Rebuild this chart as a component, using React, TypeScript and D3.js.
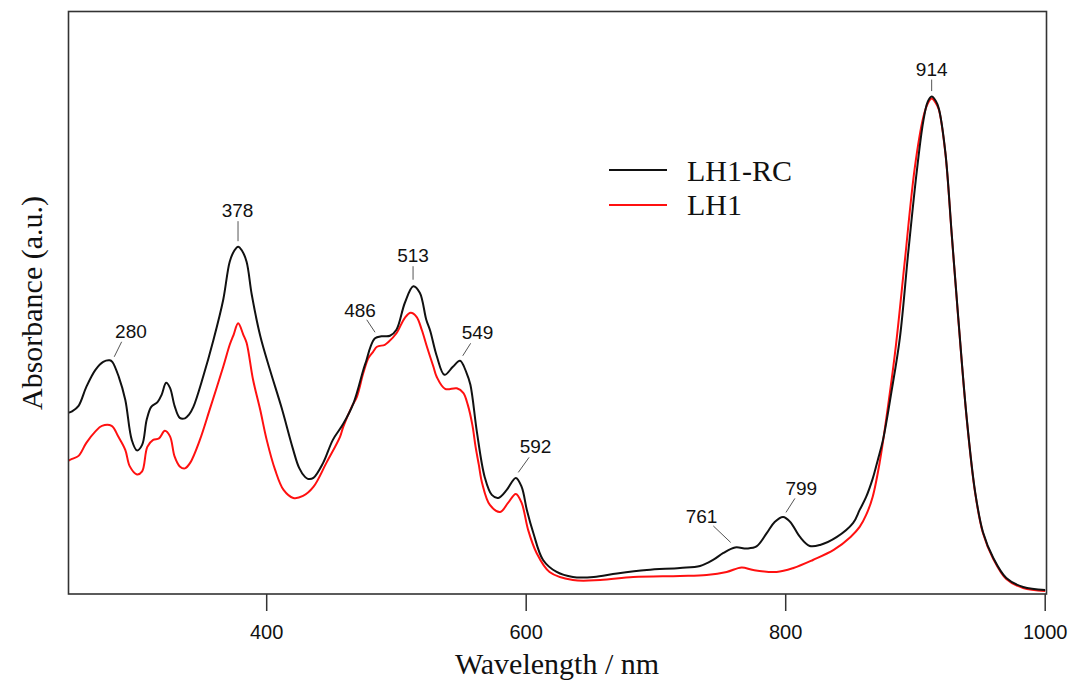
import React from "react";
import * as d3 from "d3";

// Wavelengths (nm) and absorbance (a.u.) for LH1-RC (black)
const lh1rcWl = [247, 250, 255, 261, 268, 274, 279, 281, 286, 291, 296, 300, 304, 307.5, 311, 316, 319, 322.5, 325.5, 329, 333, 337, 340, 343.5, 351, 359, 366.5, 371.5, 375, 378, 381, 384.5, 388.5, 395, 402.5, 411.5, 420, 425, 429.5, 432, 436, 443.5, 451, 459, 467, 474.5, 477, 480, 483.5, 488.5, 495, 500, 506.5, 513, 518, 523, 526, 531, 537, 543.5, 549, 554, 557, 562, 568, 573.5, 578.5, 585, 592, 596.5, 600.5, 605.5, 613, 623.5, 636, 652, 670, 693, 718.5, 734, 744, 752, 761, 770, 777.5, 785.5, 791.5, 798, 803.5, 811, 818.5, 826.5, 839.5, 852, 857, 862, 867, 871, 875, 881.5, 888, 894.5, 901, 906, 909.5, 912.5, 915.5, 918, 923, 928, 933, 939.5, 946, 952, 960, 970, 983, 1000];
const lh1rcAbs = [0.362, 0.365, 0.376, 0.414, 0.448, 0.464, 0.467, 0.464, 0.434, 0.388, 0.308, 0.287, 0.298, 0.348, 0.374, 0.384, 0.398, 0.422, 0.412, 0.376, 0.352, 0.351, 0.358, 0.374, 0.434, 0.508, 0.588, 0.664, 0.686, 0.694, 0.686, 0.664, 0.598, 0.516, 0.448, 0.372, 0.292, 0.252, 0.234, 0.230, 0.232, 0.262, 0.308, 0.340, 0.382, 0.448, 0.468, 0.494, 0.511, 0.515, 0.516, 0.528, 0.582, 0.615, 0.602, 0.548, 0.526, 0.476, 0.438, 0.454, 0.466, 0.442, 0.418, 0.324, 0.234, 0.198, 0.192, 0.208, 0.232, 0.214, 0.168, 0.122, 0.068, 0.044, 0.034, 0.034, 0.041, 0.048, 0.052, 0.056, 0.068, 0.082, 0.093, 0.091, 0.095, 0.122, 0.144, 0.154, 0.144, 0.114, 0.096, 0.098, 0.114, 0.142, 0.168, 0.194, 0.230, 0.268, 0.308, 0.404, 0.512, 0.684, 0.844, 0.944, 0.984, 0.994, 0.986, 0.970, 0.884, 0.718, 0.552, 0.352, 0.204, 0.124, 0.072, 0.032, 0.014, 0.008];

// LH1 (red)
const lh1Wl = [247, 250, 255, 261, 268, 273, 280.5, 285.5, 291, 294.5, 300, 304, 308, 312.5, 317, 321.5, 325.5, 329, 333, 337, 341, 348.5, 356, 366.5, 371.5, 374.5, 378, 382, 384.5, 389.5, 395, 400, 406.5, 413, 420.5, 428, 436, 446, 456.5, 459, 465.5, 469.5, 474.5, 478.5, 482, 485, 491, 494, 500, 506.5, 511, 515.5, 519.5, 523.5, 528.5, 531, 537.5, 546.5, 551.5, 555, 558.5, 561, 563.5, 566, 572, 580, 586, 592, 596.5, 601.5, 608, 618, 636, 657, 682.5, 718.5, 739, 754.5, 766, 775, 793, 806, 821, 837, 850, 857, 862, 867, 872.5, 879, 885, 891.5, 899.5, 906, 909.5, 912.5, 915.5, 918, 923, 928, 933, 939.5, 946, 952, 960, 970, 983, 1000];
const lh1Abs = [0.266, 0.270, 0.276, 0.302, 0.325, 0.336, 0.336, 0.315, 0.288, 0.255, 0.239, 0.245, 0.294, 0.308, 0.311, 0.326, 0.315, 0.275, 0.255, 0.251, 0.262, 0.308, 0.368, 0.454, 0.498, 0.518, 0.541, 0.518, 0.502, 0.428, 0.368, 0.308, 0.248, 0.208, 0.192, 0.196, 0.214, 0.262, 0.314, 0.334, 0.374, 0.394, 0.442, 0.472, 0.484, 0.494, 0.498, 0.504, 0.521, 0.552, 0.562, 0.554, 0.528, 0.494, 0.454, 0.434, 0.410, 0.411, 0.402, 0.378, 0.338, 0.294, 0.258, 0.222, 0.178, 0.164, 0.182, 0.200, 0.182, 0.128, 0.082, 0.044, 0.028, 0.028, 0.034, 0.036, 0.038, 0.044, 0.053, 0.048, 0.044, 0.052, 0.068, 0.088, 0.114, 0.134, 0.158, 0.194, 0.264, 0.378, 0.498, 0.658, 0.852, 0.952, 0.980, 0.990, 0.982, 0.968, 0.882, 0.716, 0.550, 0.350, 0.202, 0.122, 0.070, 0.030, 0.012, 0.006];

const xTicks = [400, 600, 800, 1000];

// Peak annotations
const peakLabels = ["280", "378", "486", "513", "549", "592", "761", "799", "914"];
// label anchor (centre, baseline) in data units
const labelWl = [295.4, 377.5, 471.9, 512.8, 562.5, 607.2, 735.1, 812.0, 912.5];
const labelAbs = [0.512, 0.754, 0.554, 0.664, 0.510, 0.282, 0.142, 0.198, 1.036];
// leader line start (near the peak) and end (near the label)
const leaderWl0 = [282.5, 377.9, 483.5, 512.8, 551.1, 593.9, 757.6, 800.2, 912.5];
const leaderAbs0 = [0.474, 0.705, 0.523, 0.628, 0.476, 0.243, 0.103, 0.163, 1.005];
const leaderWl1 = [288.2, 377.9, 477.1, 512.8, 557.2, 602.2, 744.2, 807.1, 912.5];
const leaderAbs1 = [0.504, 0.745, 0.548, 0.655, 0.501, 0.273, 0.136, 0.191, 1.028];

const seriesNames = ["LH1-RC", "LH1"];
const seriesColors = ["#111111", "#ff1010"];

export default function App() {
  const W = 1070, H = 684;
  const left = 68.5, right = 1046.5, top = 11.5, bottom = 594;
  const x = d3.scaleLinear().domain([247.25, 1001]).range([left, right]);
  const y = d3.scaleLinear().domain([0, 1.164]).range([bottom, top]);

  const line = d3
    .line<[number, number]>()
    .x((d) => x(d[0]))
    .y((d) => y(d[1]))
    .curve(d3.curveCatmullRom.alpha(0.5));

  const blackData = lh1rcWl.map((w, i) => [w, lh1rcAbs[i]] as [number, number]);
  const redData = lh1Wl.map((w, i) => [w, lh1Abs[i]] as [number, number]);

  const sans = "'Liberation Sans', Arial, sans-serif";
  const serif = "'Liberation Serif', 'Times New Roman', serif";

  return (
    <svg
      width={W}
      height={H}
      style={{ position: "absolute", left: 0, top: 0, background: "#fff" }}
    >
      <defs>
        <clipPath id="plot">
          <rect x={left} y={top} width={right - left} height={bottom - top} />
        </clipPath>
      </defs>
      <g clipPath="url(#plot)">
        <path d={line(redData) || ""} fill="none" stroke={seriesColors[1]} strokeWidth={2} strokeLinejoin="round" />
        <path d={line(blackData) || ""} fill="none" stroke={seriesColors[0]} strokeWidth={2} strokeLinejoin="round" />
      </g>
      <rect
        x={left}
        y={top}
        width={right - left}
        height={bottom - top}
        fill="none"
        stroke="#333"
        strokeWidth={1.6}
      />
      {xTicks.map((t) => (
        <g key={t}>
          <line x1={x(t)} x2={x(t)} y1={bottom} y2={bottom + 17} stroke="#333" strokeWidth={1.5} />
          <text x={x(t)} y={639} textAnchor="middle" fontFamily={sans} fontSize={20} fill="#111">
            {t}
          </text>
        </g>
      ))}
      {peakLabels.map((lab, i) => (
        <g key={lab}>
          <line
            x1={x(leaderWl0[i])}
            y1={y(leaderAbs0[i])}
            x2={x(leaderWl1[i])}
            y2={y(leaderAbs1[i])}
            stroke="#555"
            strokeWidth={1}
          />
          <text
            x={x(labelWl[i])}
            y={y(labelAbs[i])}
            textAnchor="middle"
            fontFamily={sans}
            fontSize={19}
            fill="#111"
          >
            {lab}
          </text>
        </g>
      ))}
      {seriesNames.map((n, i) => (
        <g key={n}>
          <line x1={609} x2={667} y1={170 + i * 35} y2={170 + i * 35} stroke={seriesColors[i]} strokeWidth={2} />
          <text x={687} y={181 + i * 34} fontFamily={serif} fontSize={30} fill="#111">
            {n}
          </text>
        </g>
      ))}
      <text x={557} y={674} textAnchor="middle" fontFamily={serif} fontSize={30} fill="#111">
        Wavelength / nm
      </text>
      <text
        transform={`translate(42, 303) rotate(-90)`}
        textAnchor="middle"
        fontFamily={serif}
        fontSize={30}
        fill="#111"
      >
        Absorbance (a.u.)
      </text>
    </svg>
  );
}
